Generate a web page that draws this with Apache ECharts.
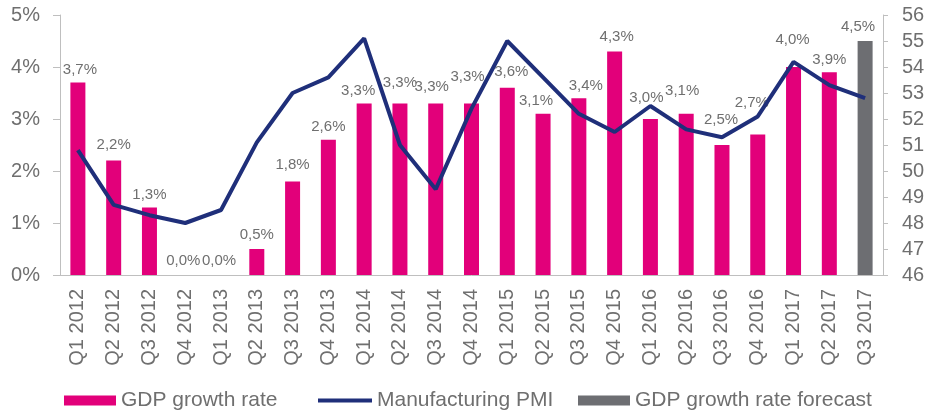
<!DOCTYPE html>
<html>
<head>
<meta charset="utf-8">
<script src="https://cdn.jsdelivr.net/npm/echarts@6/dist/echarts.min.js"></script>
<style>
  html, body { margin: 0; padding: 0; background: #fff; }
  #main { width: 926px; height: 411px; }
</style>
</head>
<body>
<div id="main"></div>
<script>
// quarters
var categories = ['Q1 2012', 'Q2 2012', 'Q3 2012', 'Q4 2012', 'Q1 2013', 'Q2 2013', 'Q3 2013', 'Q4 2013',
  'Q1 2014', 'Q2 2014', 'Q3 2014', 'Q4 2014', 'Q1 2015', 'Q2 2015', 'Q3 2015', 'Q4 2015',
  'Q1 2016', 'Q2 2016', 'Q3 2016', 'Q4 2016', 'Q1 2017', 'Q2 2017', 'Q3 2017'];
// GDP growth rate, % (last quarter is the forecast)
var gdpGrowth = [3.7, 2.2, 1.3, 0.0, 0.0, 0.5, 1.8, 2.6, 3.3, 3.3, 3.3, 3.3, 3.6, 3.1, 3.4, 4.3,
  3.0, 3.1, 2.5, 2.7, 4.0, 3.9, '-'];
var gdpForecast = ['-', '-', '-', '-', '-', '-', '-', '-', '-', '-', '-', '-', '-', '-', '-', '-',
  '-', '-', '-', '-', '-', '-', 4.5];
// Manufacturing PMI
var pmi = [50.8, 48.7, 48.3, 48.0, 48.5, 51.1, 53.0, 53.6, 55.1, 51.0, 49.3, 52.4, 55.0, 53.6, 52.2, 51.5,
  52.5, 51.6, 51.3, 52.1, 54.2, 53.3, 52.8];
var leftTicks = [0, 1, 2, 3, 4, 5];
var rightTicks = [46, 56];

// label nudges, [dx, dy] in px, to follow the hand placed labels
var labelNudge = [[2, 0], [0, -3], [0, 0], [-2, -2], [-2, -2], [0, -2], [0, -4], [0, 0],
  [-6, 0], [0, -8], [-4, -4], [-4, -14], [4, -3], [-7, 0], [7, 0], [2, -2],
  [-4, -9], [-4, -10], [-1, -13], [-6, -19], [-1, -15], [0, 0], [-7, -2]];

var font = 'Liberation Sans, Arial, Helvetica, sans-serif';
var grey = '#6f6f6f';

function pct(v) {
  return v.toFixed(1).replace('.', ',') + '%';
}

function withLabels(arr) {
  return arr.map(function (v, i) {
    if (v === '-') return '-';
    return { value: v, label: { offset: labelNudge[i] } };
  });
}

var barLabel = {
  show: true,
  position: 'top',
  distance: 5,
  color: grey,
  fontFamily: font,
  fontSize: 15,
  formatter: function (p) { return pct(p.value); }
};

var legendText = { color: grey, fontFamily: font, fontSize: 21 };

var myChart = echarts.init(document.getElementById('main'));

myChart.setOption({
  animation: false,
  grid: { left: 60, right: 43, top: 15, bottom: 136, outerBoundsMode: 'none' },
  legend: [
    {
      data: ['GDP growth rate'], left: 59, top: 385, icon: 'rect',
      itemWidth: 52, itemHeight: 10, textStyle: legendText
    },
    {
      data: ['Manufacturing PMI'], left: 313, top: 385, icon: 'rect',
      itemWidth: 54, itemHeight: 4, textStyle: legendText
    },
    {
      data: ['GDP growth rate forecast'], left: 573, top: 385, icon: 'rect',
      itemWidth: 52, itemHeight: 10, textStyle: legendText
    }
  ],
  xAxis: {
    type: 'category',
    data: categories,
    axisLine: { lineStyle: { color: '#bfbfbf', width: 1 } },
    axisTick: { show: false },
    axisLabel: {
      rotate: 90, margin: 14, interval: 0,
      color: grey, fontFamily: font, fontSize: 20
    }
  },
  yAxis: [
    {
      type: 'value',
      min: leftTicks[0], max: leftTicks[leftTicks.length - 1], interval: 1,
      axisLine: { show: true, lineStyle: { color: '#bfbfbf' } },
      axisTick: { show: true, length: 7, lineStyle: { color: '#bfbfbf' } },
      splitLine: { show: false },
      axisLabel: { margin: 20, color: grey, fontFamily: font, fontSize: 20, formatter: '{value}%' }
    },
    {
      type: 'value',
      min: rightTicks[0], max: rightTicks[1], interval: 1,
      axisLine: { show: true, lineStyle: { color: '#bfbfbf' } },
      axisTick: { show: true, length: 5, lineStyle: { color: '#bfbfbf' } },
      splitLine: { show: false },
      axisLabel: { margin: 19, color: grey, fontFamily: font, fontSize: 20 }
    }
  ],
  series: [
    {
      name: 'GDP growth rate',
      type: 'bar',
      barWidth: 15,
      barGap: '-100%',
      itemStyle: { color: '#e2007a' },
      label: barLabel,
      data: withLabels(gdpGrowth)
    },
    {
      name: 'GDP growth rate forecast',
      type: 'bar',
      barWidth: 15,
      barGap: '-100%',
      itemStyle: { color: '#6d6e72' },
      label: barLabel,
      data: withLabels(gdpForecast)
    },
    {
      name: 'Manufacturing PMI',
      type: 'line',
      yAxisIndex: 1,
      symbol: 'none',
      z: 5,
      lineStyle: { color: '#1f2f7a', width: 4 },
      itemStyle: { color: '#1f2f7a' },
      data: pmi
    }
  ]
});
</script>
</body>
</html>
